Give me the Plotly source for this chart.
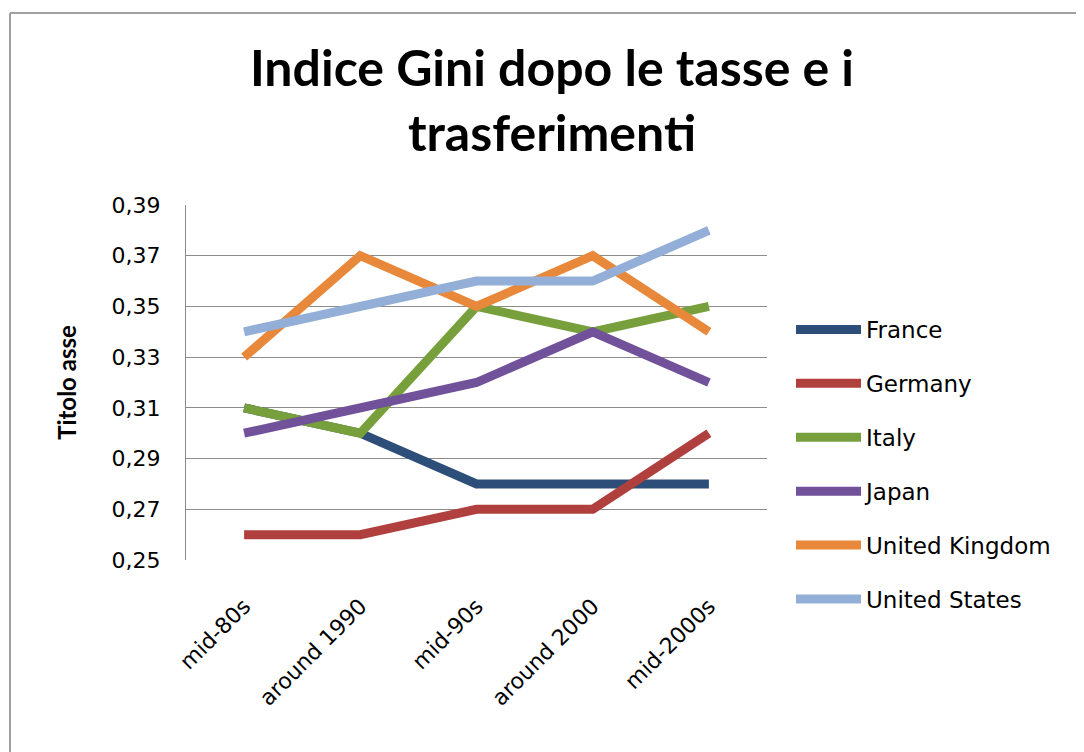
import plotly.graph_objects as go

categories = ["mid-80s", "around 1990", "mid-90s", "around 2000", "mid-2000s"]
france = [0.31, 0.30, 0.28, 0.28, 0.28]
germany = [0.26, 0.26, 0.27, 0.27, 0.30]
italy = [0.31, 0.30, 0.35, 0.34, 0.35]
japan = [0.30, 0.31, 0.32, 0.34, 0.32]
uk = [0.33, 0.37, 0.35, 0.37, 0.34]
us = [0.34, 0.35, 0.36, 0.36, 0.38]

series_names = ["France", "Germany", "Italy", "Japan", "United Kingdom", "United States"]
series_values = [france, germany, italy, japan, uk, us]
colors = ["#2C4E78", "#B0403D", "#77A03D", "#71529A", "#E8883A", "#93AFD8"]

y_ticks = [0.25, 0.27, 0.29, 0.31, 0.33, 0.35, 0.37, 0.39]

OFF = 8  # page body margin
W, H = 1084 - OFF, 752 - OFF
# plot area in page pixels
PL, PR, PT, PB = 186, 767, 205, 560
L, R, T, B = PL - OFF, PR - OFF, PT - OFF, PB - OFF

fig = go.Figure()
for name, vals, col in zip(series_names, series_values, colors):
    fig.add_trace(go.Scatter(
        x=categories, y=vals, name=name, mode="lines",
        line=dict(color=col, width=9),
        legendgroup=name,
    ))

def px_x(p):  # page px -> paper
    return (p - PL) / (PR - PL)

def px_y(p):
    return (PB - p) / (PB - PT)

fig.update_layout(
    width=W, height=H,
    margin=dict(l=L, r=W - R, t=T, b=H - B, autoexpand=False),
    paper_bgcolor="white", plot_bgcolor="white",
    separators=",.",
    title=dict(
        text="Indice Gini dopo le tasse e i<br>trasferimenti",
        x=(552 - OFF) / W, xref="container", xanchor="center",
        y=1 - 78 / H, yref="container", yanchor="top",
        font=dict(family="Lato", size=50, color="black", weight="bold"),
    ),
    xaxis=dict(
        type="category", range=[-0.5, 4.5],
        showgrid=False, showline=False, zeroline=False,
        tickangle=-45, ticks="", ticklabelstandoff=28,
        tickfont=dict(family="DejaVu Sans", size=22, color="black"),
    ),
    yaxis=dict(
        range=[0.25, 0.39], tickvals=y_ticks, tickformat=".2f",
        showgrid=True, gridcolor="#8C8C8C", gridwidth=1,
        showline=True, linecolor="#8C8C8C", linewidth=1,
        zeroline=False, ticks="", ticklabelstandoff=20,
        tickfont=dict(family="DejaVu Sans", size=22, color="black"),
        title=dict(text="Titolo asse", standoff=28,
                   font=dict(family="Lato", size=24, color="black", weight="bold")),
    ),
    legend=dict(
        x=px_x(791), xanchor="left", y=px_y(308), yanchor="top",
        font=dict(family="DejaVu Sans", size=23, color="black"),
        tracegroupgap=21, itemwidth=65,
        bgcolor="rgba(0,0,0,0)",
    ),
    showlegend=True,
    shapes=[
        dict(type="line", xref="paper", yref="paper",
             x0=px_x(10), x1=px_x(1110), y0=px_y(13), y1=px_y(13),
             line=dict(color="#A0A0A0", width=2)),
        dict(type="line", xref="paper", yref="paper",
             x0=px_x(10), x1=px_x(10), y0=px_y(13), y1=px_y(780),
             line=dict(color="#A0A0A0", width=2)),
    ],
)

fig.write_html("out.html")
